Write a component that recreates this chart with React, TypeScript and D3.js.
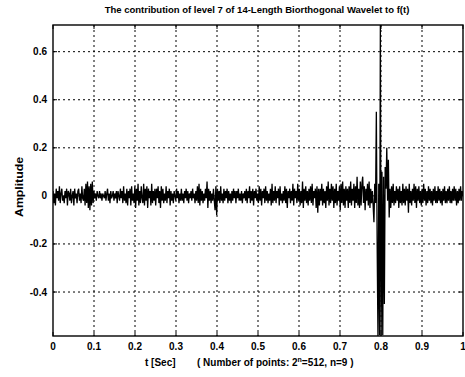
import React from "react";
import * as d3 from "d3";

const titleText = "The contribution of level 7 of 14-Length Biorthogonal Wavelet to f(t)";
const xTicks = [0, 0.1, 0.2, 0.3, 0.4, 0.5, 0.6, 0.7, 0.8, 0.9, 1];
const yTicks = [-0.4, -0.2, 0, 0.2, 0.4, 0.6];
const yDomain = [-0.583, 0.711];

// amplitude in hundredths, 512 samples over t in [0, 1]
const amplitudeHundredths = [
  2,-3,1,-4,3,-1,2,-2,4,-3,1,3,-2,0,-3,2,
  -1,3,-4,2,1,-2,3,-3,0,2,-4,3,-1,1,-3,2,
  3,-2,1,-3,4,-1,-2,3,-4,5,-3,6,-5,4,-6,5,
  -4,6,-3,2,-1,1,-2,2,0,-1,2,-1,1,-2,1,0,
  -1,2,-2,1,3,-2,1,-3,2,-1,0,2,-2,1,-1,2,
  -3,2,0,-2,3,-1,2,-3,4,-2,1,-3,3,-4,2,-1,
  3,-4,4,-2,1,-3,4,-5,3,-2,5,-4,2,-3,4,-1,
  -3,5,-4,3,-2,4,-5,3,-1,2,-4,5,-3,2,-2,3,
  -4,3,-1,4,-3,2,-5,4,-2,3,-3,1,-2,4,-3,2,
  -1,3,-4,2,-2,1,-3,2,0,-2,3,-1,2,-3,1,-2,
  3,-2,1,-3,2,-1,3,-2,2,-3,1,-1,2,-2,3,-1,
  1,-3,2,-2,4,-3,5,-4,3,-2,2,-3,1,-2,3,-1,
  6,-5,3,-2,2,-3,1,-2,3,-2,-6,4,-8,3,-2,2,
  -3,4,-2,1,-3,3,-2,2,-1,3,-3,2,-2,1,-3,2,
  -2,3,-1,2,-3,2,-1,3,-2,1,-2,2,-3,1,-1,2,
  -2,3,-3,2,-1,4,-3,2,-2,3,-4,2,-1,3,-2,1,
  -3,4,-2,3,-4,2,-1,3,-3,4,-2,2,-3,1,-2,3,
  -4,5,-3,2,-2,4,-3,2,-1,3,-4,4,-2,1,-3,2,
  -2,4,-3,3,-5,2,-1,3,-3,2,-2,5,-4,3,-1,2,
  -3,5,-2,3,-4,2,-3,6,-5,3,-2,4,-3,2,-4,3,
  -2,4,-3,5,-4,2,-1,3,-5,4,-7,3,-4,3,-2,5,
  -4,3,-3,2,-5,4,-2,6,-4,3,-3,5,-2,4,-5,3,
  -3,5,-4,2,-2,4,-6,5,-3,6,-4,3,-5,4,-2,3,
  -5,4,-3,6,-4,3,-2,5,-5,4,-3,8,-4,3,-5,6,
  -4,5,8,-3,4,-6,3,-2,5,-4,6,-5,3,-3,2,-4,
  -11,5,-3,35,-20,-58.3,5,-58,71.1,-58,10,-58,8,-45,12,3,
  20,-2,15,-9,3,-5,4,-3,5,-4,2,-3,4,-2,3,-5,
  4,-3,2,-4,5,-3,3,-4,4,-2,3,-7,5,-3,2,-4,
  3,-2,5,-3,4,-5,3,-2,4,-3,2,-4,3,-3,5,-2,
  3,-4,2,-3,4,-2,3,-3,2,-4,3,-2,4,-3,2,-3,
  4,-2,3,-3,2,-4,3,-2,4,-3,2,-3,3,-2,4,-3,
  2,-3,3,-2,4,-2,3,-4,2,-3,3,-2,4,-2,2,0,
];

const W = 465;
const H = 377;
const L = 53, R = 463, T = 25, B = 336;

export default function App() {
  const n = amplitudeHundredths.length;
  const x = d3.scaleLinear().domain([0, 1]).range([L, R]);
  const y = d3.scaleLinear().domain(yDomain).range([B, T]);
  const pts = amplitudeHundredths.map((v, i) => [i / (n - 1), v / 100] as [number, number]);
  const line = d3.line<[number, number]>().x(d => x(d[0])).y(d => y(d[1]));
  const font = "'Liberation Sans', Arial, sans-serif";
  const tk = 4;
  return (
    <svg width={W} height={H} style={{ position: "absolute", left: 0, top: 0, background: "#fff" }}>
      <defs>
        <clipPath id="plotclip">
          <rect x={L} y={T} width={R - L} height={B - T} />
        </clipPath>
      </defs>
      <rect x={0} y={0} width={W} height={H} fill="#fff" />
      <g stroke="#000" strokeWidth={1} strokeDasharray="2,3">
        {xTicks.slice(1, -1).map(t => (
          <line key={"gx" + t} x1={x(t)} x2={x(t)} y1={T} y2={B} />
        ))}
        {yTicks.map(t => (
          <line key={"gy" + t} x1={L} x2={R} y1={y(t)} y2={y(t)} />
        ))}
      </g>
      <g stroke="#000" strokeWidth={1}>
        {xTicks.map(t => (
          <g key={"tx" + t}>
            <line x1={x(t)} x2={x(t)} y1={B} y2={B - tk} />
            <line x1={x(t)} x2={x(t)} y1={T} y2={T + tk} />
          </g>
        ))}
        {yTicks.map(t => (
          <g key={"ty" + t}>
            <line x1={L} x2={L + tk} y1={y(t)} y2={y(t)} />
            <line x1={R} x2={R - tk} y1={y(t)} y2={y(t)} />
          </g>
        ))}
      </g>
      <path d={line(pts) || ""} fill="none" stroke="#000" strokeWidth={1.3} clipPath="url(#plotclip)" />
      <rect x={L} y={T} width={R - L} height={B - T} fill="none" stroke="#000" strokeWidth={1.4} />
      <g fontFamily={font} fontWeight="bold" fontSize={10} fill="#000">
        {xTicks.map(t => (
          <text key={"lx" + t} x={x(t)} y={350} textAnchor="middle">{String(t)}</text>
        ))}
        {yTicks.map(t => (
          <text key={"ly" + t} x={L - 6} y={y(t) + 3.5} textAnchor="end">{String(t)}</text>
        ))}
        <text x={257} y={13} textAnchor="middle" fontSize={9.5}>{titleText}</text>
        <text x={145} y={366} textAnchor="start" fontSize={10}>t [Sec]</text>
        <text x={197} y={366} textAnchor="start" fontSize={10}>
          {"( Number of points: 2"}
          <tspan dy={-4} fontSize={7}>n</tspan>
          <tspan dy={4}>{"=512, n=9 )"}</tspan>
        </text>
        <text transform={`translate(23,187) rotate(-90)`} textAnchor="middle" fontSize={11} textLength={60} lengthAdjust="spacingAndGlyphs">Amplitude</text>
      </g>
    </svg>
  );
}
